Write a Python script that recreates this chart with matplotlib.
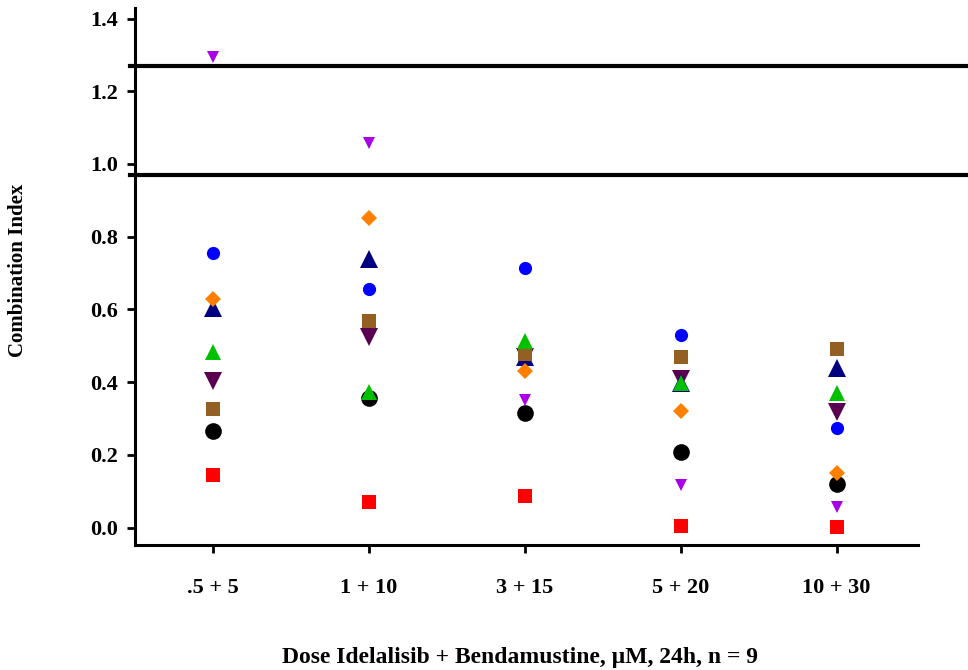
import matplotlib
matplotlib.use("Agg")
import matplotlib.pyplot as plt

plt.rcParams.update({
    "font.family": ["Liberation Serif", "DejaVu Serif"],
    "font.weight": "bold",
    "axes.labelweight": "bold",
    "font.size": 16,
})

# dose combinations (Idelalisib + Bendamustine)
doses = [".5 + 5", "1 + 10", "3 + 15", "5 + 20", "10 + 30"]

# combination index per replicate
ci_black = [0.265, 0.355, 0.316, 0.209, 0.119]
ci_red = [0.144, 0.071, 0.087, 0.004, 0.002]
ci_plum = [0.403, 0.525, 0.470, 0.408, 0.319]
ci_navy = [0.603, 0.740, 0.468, 0.398, 0.440]
ci_brown = [0.326, 0.569, 0.477, 0.470, 0.490]
ci_blue = [0.756, 0.655, 0.715, 0.529, 0.273]
ci_green = [0.484, 0.374, 0.514, 0.397, 0.369]
ci_violet = [1.294, 1.059, 0.351, 0.117, 0.056]
ci_orange = [0.630, 0.851, 0.431, 0.320, 0.149]

ref_lines = [1.27, 0.97]

# draw order matters for overlapping markers
series = [
    (ci_black, "o", "black", 12),
    (ci_red, "s", "#ff0000", 9.5),
    (ci_plum, "v", "#5a0050", 12.5),
    (ci_navy, "^", "#000080", 12.5),
    (ci_brown, "s", "#935f22", 9.5),
    (ci_blue, "o", "#0000ff", 9.5),
    (ci_green, "^", "#00c000", 11.5),
    (ci_violet, "v", "#aa00e6", 9),
    (ci_orange, "D", "#ff8000", 8.4),
]

fig = plt.figure(figsize=(9.68, 6.7), dpi=100)
ax = fig.add_axes([0.1395, 0.1866, 0.8085, 0.8014])

x = list(range(len(doses)))
for vals, mk, col, ms in series:
    ax.plot(x, vals, linestyle="none", marker=mk, color=col,
            markersize=ms, markeredgewidth=0)

for yv in ref_lines:
    ax.axhline(yv, xmin=-0.006, xmax=1.064, color="black", lw=3,
               clip_on=False, zorder=1)

ax.set_xlim(-0.5, 4.52)
ax.set_ylim(-0.048, 1.429)
ax.set_xticks(x)
ax.set_xticklabels(doses)
ax.set_yticks([0.0, 0.2, 0.4, 0.6, 0.8, 1.0, 1.2, 1.4])
ax.set_yticklabels(["0.0", "0.2", "0.4", "0.6", "0.8", "1.0", "1.2", "1.4"])

ax.spines["right"].set_visible(False)
ax.spines["top"].set_visible(False)
ax.spines["left"].set_linewidth(2.2)
ax.spines["bottom"].set_linewidth(2.2)
ax.tick_params(axis="both", direction="out", length=6, width=2)
ax.tick_params(axis="y", pad=6)
ax.tick_params(axis="x", pad=18)

# axis titles placed in figure coordinates
fig.text(0.019, 0.597, "Combination Index", rotation=90, fontsize=15,
         fontweight="bold", ha="center", va="center")
fig.text(0.537, 0.019, "Dose Idelalisib + Bendamustine, \u00b5M, 24h, n = 9",
         fontsize=17, fontweight="bold", ha="center", va="center")

plt.savefig("out.png", dpi=100)
